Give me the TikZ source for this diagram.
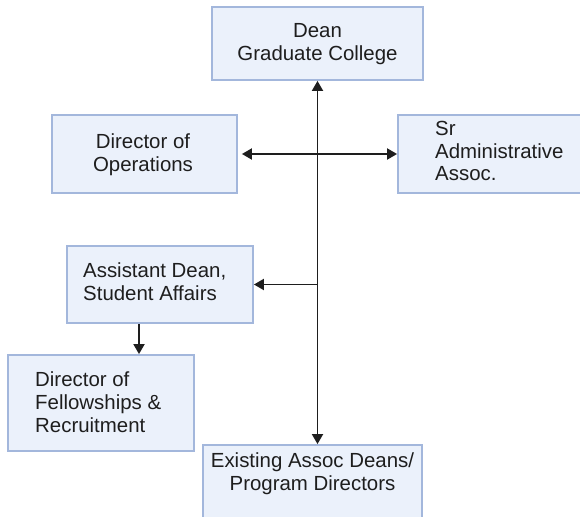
\documentclass[tikz,border=0pt]{standalone}
\usepackage{fontspec}
\setmainfont{Liberation Sans}
\usetikzlibrary{arrows.meta}
\definecolor{boxfill}{HTML}{EBF1FB}
\definecolor{boxline}{HTML}{A3B7DC}
\definecolor{ink}{HTML}{1E1E1E}
\begin{document}
\begin{tikzpicture}[x=1bp,y=-1bp,
  orgbox/.style={draw=boxline,fill=boxfill,line width=1.8bp,inner sep=0pt},
  lbl/.style={font=\fontsize{20.5}{23}\selectfont,text=ink,inner sep=0pt},
  tip/.tip={Triangle[length=10bp,width=11bp]},
  link/.style={draw=ink,line width=1.8bp,-tip},
  twoway/.style={draw=ink,line width=1.8bp,tip-tip},
]
\clip (0,0) rectangle (580,517);

% boxes of the chart
\node[orgbox,minimum width=211bp,minimum height=73bp] (dean)  at (317.5,43.5) {};
\node[orgbox,minimum width=185bp,minimum height=78bp] (ops)   at (144.5,154) {};
\node[orgbox,minimum width=187bp,minimum height=78bp] (sr)    at (491.5,154) {};
\node[orgbox,minimum width=186bp,minimum height=77bp] (asst)  at (160,284.5) {};
\node[orgbox,minimum width=186bp,minimum height=96bp] (fell)  at (101,403) {};
\node[orgbox,minimum width=219bp,minimum height=85bp] (exist) at (312.5,487.5) {};

% titles inside the boxes
\node[lbl,align=center] (deanT) at (317.5,44) {Dean\\Graduate College};
\node[lbl,align=center] (opsT) at (143,155) {Director of\\Operations};
\node[lbl,align=left,anchor=west] (srT) at (435,151) {Sr\\Administrative\\Assoc.};
\node[lbl,align=left,anchor=west] (asstT) at (83,282) {Assistant Dean,\\Student Affairs};
\node[lbl,align=left,anchor=west] (fellT) at (35,402) {Director of\\Fellowships \&\\Recruitment};
\node[lbl,align=center] (existT) at (312.5,474) {Existing Assoc Deans/\\Program Directors};

% reporting lines
\draw[twoway] (dean.south) -- (dean.south |- exist.north);
\draw[twoway,shorten <=4bp] (ops.east) -- (sr.west);
\draw[link] (dean.south |- asst.east) -- (asst.east);
\draw[link] ([xshift=-21bp]asst.south) -- ([xshift=-21bp]asst.south |- fell.north);
\end{tikzpicture}
\end{document}
